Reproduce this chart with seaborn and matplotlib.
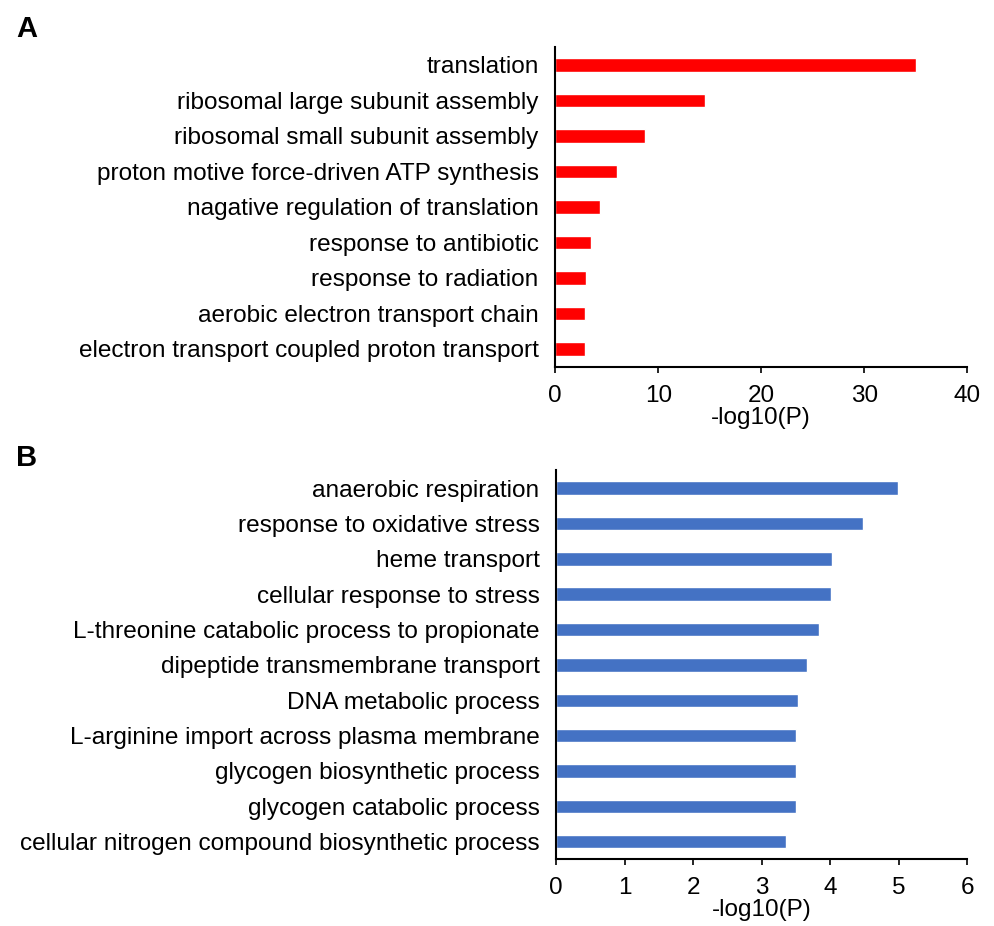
import pandas as pd
import matplotlib.pyplot as plt
import seaborn as sns

# GO terms, panel A (up)
terms_a = ["translation", "ribosomal large subunit assembly", "ribosomal small subunit assembly",
           "proton motive force-driven ATP synthesis", "nagative regulation of translation",
           "response to antibiotic", "response to radiation", "aerobic electron transport chain",
           "electron transport coupled proton transport"]
vals_a = [35.0, 14.5, 8.75, 5.96, 4.36, 3.46, 2.98, 2.85, 2.85]

# GO terms, panel B (down)
terms_b = ["anaerobic respiration", "response to oxidative stress", "heme transport",
           "cellular response to stress", "L-threonine catabolic process to propionate",
           "dipeptide transmembrane transport", "DNA metabolic process",
           "L-arginine import across plasma membrane", "glycogen biosynthetic process",
           "glycogen catabolic process", "cellular nitrogen compound biosynthetic process"]
vals_b = [4.99, 4.48, 4.02, 4.01, 3.83, 3.66, 3.53, 3.50, 3.50, 3.50, 3.35]

sns.set_style("white")
plt.rcParams['font.family'] = ['Liberation Sans', 'DejaVu Sans']
plt.rcParams['text.color'] = 'black'
plt.rcParams['xtick.color'] = 'black'
plt.rcParams['ytick.color'] = 'black'
plt.rcParams['axes.labelcolor'] = 'black'

fig = plt.figure(figsize=(9.95, 9.26), dpi=100)
ax_a = fig.add_axes([0.558, 0.604, 0.414, 0.345])
ax_b = fig.add_axes([0.559, 0.072, 0.413, 0.420])

panels = [(ax_a, terms_a, vals_a, "#FF0000", 40, 10),
          (ax_b, terms_b, vals_b, "#4472C4", 6, 1)]

for ax, terms, vals, color, xmax, step in panels:
    df = pd.DataFrame({"term": terms, "val": vals})
    sns.barplot(data=df, x="val", y="term", orient="h", color=color,
                width=0.38, saturation=1, ax=ax)
    ax.set_xlim(0, xmax)
    ax.set_ylim(len(terms) - 0.5, -0.5)
    ax.set_xticks(range(0, xmax + 1, step))
    ax.set_xlabel("-log10(P)", fontsize=17.5, labelpad=0)
    ax.set_ylabel("")
    sns.despine(ax=ax)
    for s in ["left", "bottom"]:
        ax.spines[s].set_linewidth(1.5)
        ax.spines[s].set_color("black")
    ax.tick_params(axis="x", direction="out", length=4, width=1.2,
                   labelsize=17.5, bottom=True, pad=9)
    ax.tick_params(axis="y", length=0, labelsize=17.6, pad=12)

fig.text(0.016, 0.960, "A", fontsize=21, fontweight="bold")
fig.text(0.016, 0.497, "B", fontsize=21, fontweight="bold")

fig.savefig("out.png", dpi=100)
